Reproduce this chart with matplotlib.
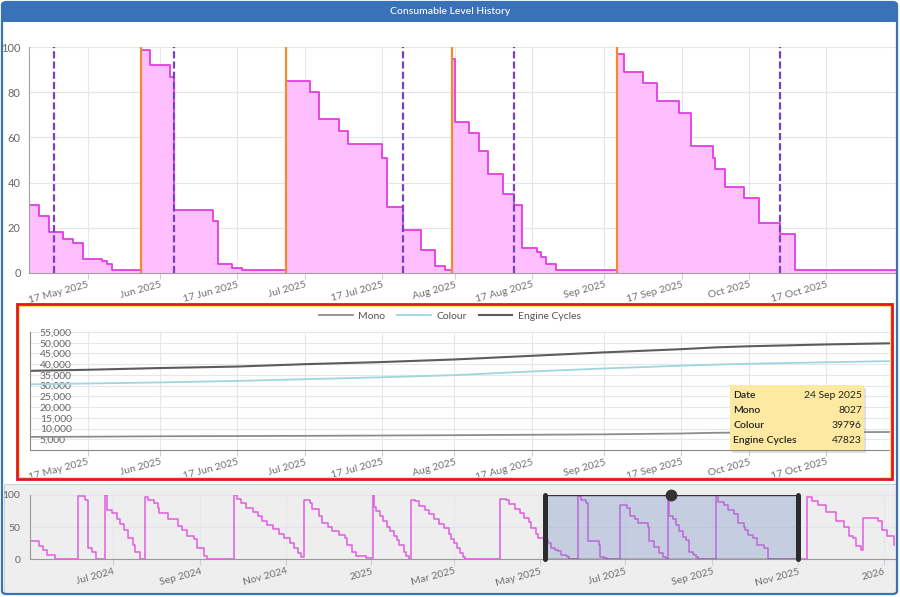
import matplotlib
matplotlib.use("Agg")
import matplotlib.pyplot as plt
import matplotlib.dates as mdates
from matplotlib.patches import Rectangle, FancyBboxPatch
from matplotlib.lines import Line2D
import pandas as pd

plt.rcParams["font.family"] = ["Lato", "DejaVu Sans"]

W, H = 900, 597

# --- consumable level (%) shown in the main window, step series
level_dates = [
    "2025-05-05", "2025-05-07", "2025-05-09", "2025-05-12", "2025-05-14", "2025-05-16",
    "2025-05-20", "2025-05-21", "2025-05-22",
    "2025-05-28", "2025-05-30", "2025-06-03", "2025-06-04", "2025-06-12", "2025-06-13",
    "2025-06-16", "2025-06-18",
    "2025-06-27", "2025-07-02", "2025-07-04", "2025-07-08", "2025-07-10", "2025-07-17",
    "2025-07-18", "2025-07-21 06:00", "2025-07-25", "2025-07-28", "2025-07-30",
    "2025-07-31 12:00", "2025-08-01", "2025-08-04", "2025-08-06", "2025-08-08", "2025-08-11",
    "2025-08-13 05:00", "2025-08-15", "2025-08-18", "2025-08-19", "2025-08-20", "2025-08-22",
    "2025-09-03 16:00", "2025-09-05", "2025-09-09", "2025-09-12", "2025-09-16 14:00",
    "2025-09-19", "2025-09-23 12:00", "2025-09-24", "2025-09-26", "2025-09-30",
    "2025-10-03", "2025-10-07 10:00", "2025-10-10 10:00", "2025-11-01",
]
level_values = [
    30, 25, 18, 15, 13, 6, 5, 4, 1,
    99, 92, 87, 28, 23, 4, 2, 1,
    85, 80, 68, 63, 57, 51, 29, 19, 10, 3, 1,
    95, 67, 62, 54, 44, 35, 30, 11, 9, 7, 4, 1,
    97, 89, 84, 76, 71, 56, 51, 46, 38, 33, 22, 17, 1, 1,
]
replaced_dates = ["2025-05-28", "2025-06-27", "2025-07-31 12:00", "2025-09-03 16:00"]
alert_dates = ["2025-05-10", "2025-06-04", "2025-07-21 06:00", "2025-08-13 05:00",
               "2025-10-07 10:00"]

# --- counters
counter_dates = ["2025-05-05", "2025-05-17", "2025-06-01", "2025-06-17", "2025-07-01",
                 "2025-07-17", "2025-08-01", "2025-08-17", "2025-09-01", "2025-09-17",
                 "2025-09-24", "2025-10-01", "2025-10-17", "2025-11-01"]
mono = [6100, 6200, 6400, 6500, 6600, 6750, 6900, 7100, 7300, 7700, 8027, 8150, 8300, 8400]
colour = [30600, 31000, 31500, 32200, 33000, 33900, 34900, 36600, 38000, 39300, 39796,
          40200, 40900, 41500]
engine = [36900, 37400, 38200, 38900, 40000, 41000, 42200, 43900, 45500, 47000, 47823,
          48350, 49200, 49800]
tooltip_date = "2025-09-24"
tooltip_label = "24 Sep 2025"

# --- navigator history outside the main window
nav_before_dates = [
    "2024-05-03", "2024-05-09", "2024-05-12", "2024-05-15", "2024-05-21",
    "2024-06-06", "2024-06-11", "2024-06-13", "2024-06-16", "2024-06-19",
    "2024-06-25", "2024-06-27", "2024-06-30", "2024-07-04", "2024-07-06", "2024-07-09",
    "2024-07-12", "2024-07-15", "2024-07-17", "2024-07-20",
    "2024-07-24", "2024-07-26", "2024-07-30", "2024-08-02", "2024-08-03", "2024-08-09",
    "2024-08-16", "2024-08-19", "2024-08-23", "2024-08-28", "2024-08-30", "2024-09-04",
    "2024-09-06",
    "2024-09-25", "2024-09-27", "2024-09-30", "2024-10-04", "2024-10-09", "2024-10-12",
    "2024-10-15", "2024-10-19", "2024-10-23", "2024-10-27", "2024-10-31", "2024-11-04",
    "2024-11-07", "2024-11-10", "2024-11-12",
    "2024-11-14", "2024-11-18", "2024-11-20", "2024-11-25", "2024-11-27", "2024-12-01",
    "2024-12-04", "2024-12-09", "2024-12-13", "2024-12-15", "2024-12-18", "2024-12-21",
    "2024-12-28",
    "2025-01-02", "2025-01-03", "2025-01-04", "2025-01-07", "2025-01-09", "2025-01-12",
    "2025-01-14", "2025-01-17", "2025-01-19", "2025-01-21", "2025-01-24", "2025-01-26",
    "2025-01-28",
    "2025-01-29", "2025-02-01", "2025-02-04", "2025-02-08", "2025-02-11", "2025-02-15",
    "2025-02-18", "2025-02-22", "2025-02-25", "2025-02-27", "2025-03-01", "2025-03-03",
    "2025-03-05", "2025-03-07", "2025-03-09",
    "2025-04-03", "2025-04-07", "2025-04-09", "2025-04-13", "2025-04-17", "2025-04-20",
    "2025-04-23", "2025-04-25", "2025-04-28", "2025-04-30",
]
nav_before_values = [
    28, 20, 15, 7, 1,
    98, 93, 17, 12, 1,
    100, 77, 72, 62, 55, 45, 33, 22, 12, 1,
    97, 93, 88, 80, 72, 62, 52, 45, 37, 31, 18, 5, 1,
    100, 94, 88, 80, 74, 67, 60, 54, 47, 40, 33, 26, 18, 10, 4,
    93, 88, 78, 67, 56, 51, 44, 38, 33, 22, 12, 5, 2,
    100, 82, 75, 67, 59, 51, 44, 37, 30, 22, 11, 5, 1,
    92, 90, 83, 77, 70, 62, 55, 48, 40, 32, 25, 18, 10, 3, 1,
    94, 92, 86, 78, 72, 65, 58, 48, 40, 33,
]
nav_after_dates = ["2025-11-07", "2025-11-11", "2025-11-15", "2025-11-21", "2025-11-28",
                   "2025-12-04", "2025-12-07", "2025-12-10", "2025-12-12", "2025-12-16",
                   "2025-12-17", "2025-12-28", "2025-12-31", "2026-01-03", "2026-01-08"]
nav_after_values = [97, 90, 84, 73, 60, 50, 36, 33, 20, 15, 65, 59, 46, 36, 23]

main_ticks = ["2025-05-17", "2025-06-01", "2025-06-17", "2025-07-01", "2025-07-17",
              "2025-08-01", "2025-08-17", "2025-09-01", "2025-09-17", "2025-10-01",
              "2025-10-17"]
main_tick_labels = ["17 May 2025", "Jun 2025", "17 Jun 2025", "Jul 2025", "17 Jul 2025",
                    "Aug 2025", "17 Aug 2025", "Sep 2025", "17 Sep 2025", "Oct 2025",
                    "17 Oct 2025"]
nav_ticks = ["2024-07-01", "2024-09-01", "2024-11-01", "2025-01-01", "2025-03-01",
             "2025-05-01", "2025-07-01", "2025-09-01", "2025-11-01", "2026-01-01"]
nav_tick_labels = ["Jul 2024", "Sep 2024", "Nov 2024", "2025", "Mar 2025", "May 2025",
                   "Jul 2025", "Sep 2025", "Nov 2025", "2026"]

window = ("2025-05-04 21:00", "2025-10-31 15:00")
mid_window = ("2025-05-05 02:00", "2025-10-30 05:00")
nav_range = ("2024-05-02 22:00", "2026-01-10 10:00")


def to_dt(values):
    return pd.to_datetime(values, format="ISO8601")


def box(l, t, r, b):
    return [l / W, 1 - b / H, (r - l) / W, (b - t) / H]


def fx(x):
    return x / W


def fy(y):
    return 1 - y / H


def date_axis(ax, ticks, labels):
    ax.set_xticks(mdates.date2num(to_dt(ticks).to_pydatetime()))
    ax.set_xticklabels(labels, rotation=15, ha="right", va="top",
                       rotation_mode="anchor", fontsize=7.5, color="#707070")
    ax.tick_params(axis="x", length=4, color="#c8d0e0", pad=1.5)
    ax.grid(axis="x", color="#e6e6ee", lw=0.8)
    for s in ["top", "right"]:
        ax.spines[s].set_visible(False)
    ax.set_axisbelow(True)


fig = plt.figure(figsize=(9, 5.97), dpi=100)

# frame pieces
fig.add_artist(Rectangle((fx(4), fy(593)), 892 / W, 109 / H, transform=fig.transFigure,
                         fc="#eeeeee", ec="#c8c8c8", lw=0.6, zorder=-2))
fig.add_artist(Rectangle((fx(2), fy(22)), 895 / W, 20 / H, transform=fig.transFigure,
                         fc="#3a72b8", ec="none", zorder=8))
fig.text(fx(450), fy(12), "Consumable Level History", color="white", fontsize=7.5,
         ha="center", va="center", zorder=9, fontweight="medium")
fig.add_artist(FancyBboxPatch((fx(2), fy(594)), 895 / W, 592 / H, transform=fig.transFigure,
                              boxstyle="round,pad=0,rounding_size=0.005", fill=False,
                              ec="#3a72b8", lw=1.6, zorder=10))

# --- main level chart
ax1 = fig.add_axes(box(29, 47.3, 897, 272.7))
t = to_dt(level_dates)
ax1.fill_between(t, level_values, step="post", color="#ffbfff", lw=0)
ax1.step(t, level_values, where="post", color="#e23de2", lw=1.3)
for d in replaced_dates:
    ax1.axvline(pd.Timestamp(d), color="#f28c28", lw=1.6)
for d in alert_dates:
    ax1.axvline(pd.Timestamp(d), color="#7b3fc6", lw=1.6, ls=(0, (3.2, 1.4)))
ax1.set_xlim(pd.Timestamp(window[0]), pd.Timestamp(window[1]))
ax1.set_ylim(0, 100)
ax1.set_yticks(range(0, 101, 20))
ax1.grid(axis="y", color="#e6e6e6", lw=0.8)
ax1.tick_params(axis="y", length=0, pad=6, labelsize=8, labelcolor="#666666")
date_axis(ax1, main_ticks, main_tick_labels)
ax1.spines["left"].set_color("#a0a0a0")
ax1.spines["bottom"].set_color("#a0a0a0")

# --- counters chart
ax2 = fig.add_axes(box(30, 332, 890, 450))
c = to_dt(counter_dates)
ax2.plot(c, mono, color="#8c8c8c", lw=1.3)
ax2.plot(c, colour, color="#9fd5dc", lw=1.3)
ax2.plot(c, engine, color="#5c5c5c", lw=1.5)
ax2.set_xlim(pd.Timestamp(mid_window[0]), pd.Timestamp(mid_window[1]))
ax2.set_ylim(0, 55000)
yt = list(range(5000, 55001, 5000))
ax2.set_yticks(yt)
ax2.set_yticklabels([f"{v:,}" for v in yt])
ax2.grid(axis="y", color="#e6e6ee", lw=0.8)
ax2.tick_params(axis="y", length=0, pad=-7, labelsize=7.5, labelcolor="#666666")
for lab in ax2.get_yticklabels():
    lab.set_horizontalalignment("left")
date_axis(ax2, main_ticks, main_tick_labels)
ax2.spines["left"].set_color("#888888")
ax2.spines["bottom"].set_color("#888888")

handles = [Line2D([], [], color="#8c8c8c", lw=1.3),
           Line2D([], [], color="#9fd5dc", lw=1.3),
           Line2D([], [], color="#5c5c5c", lw=1.5)]
fig.legend(handles, ["Mono", "Colour", "Engine Cycles"], loc="center",
           bbox_to_anchor=(fx(450), fy(316)), ncol=3, frameon=False, fontsize=7.5,
           handlelength=3.2, columnspacing=1.2, handletextpad=0.5, labelcolor="#555555")

# tooltip
i = counter_dates.index(tooltip_date)
rows = [("Date", tooltip_label), ("Mono", str(mono[i])), ("Colour", str(colour[i])),
        ("Engine Cycles", str(engine[i]))]
fig.add_artist(Rectangle((fx(732), fy(453)), 134 / W, 65 / H, transform=fig.transFigure,
                         fc="#888888", alpha=0.25, ec="none", zorder=4))
fig.add_artist(Rectangle((fx(730), fy(450)), 134 / W, 65 / H, transform=fig.transFigure,
                         fc="#fde9a2", ec="none", zorder=5))
for k, (lab, val) in enumerate(rows):
    y = fy(395 + k * 15.3)
    fig.text(fx(733), y, lab, fontsize=7.5, color="#222222", va="center", zorder=6,
             fontweight="semibold")
    fig.text(fx(862), y, val, fontsize=7.5, color="#222222", va="center", ha="right",
             zorder=6)

# red highlight box
fig.add_artist(Rectangle((fx(17), fy(479)), 875 / W, 175 / H, transform=fig.transFigure,
                         fill=False, ec="#e3161b", lw=2, zorder=3))
fig.add_artist(Rectangle((fx(19), fy(477)), 871 / W, 171 / H, transform=fig.transFigure,
                         fill=False, ec="#f3e36b", lw=0.7, zorder=3))

# --- navigator
ax3 = fig.add_axes(box(30, 495, 897, 559.3))
ax3.set_facecolor("none")
nav_t = to_dt(nav_before_dates + level_dates + nav_after_dates)
nav_v = nav_before_values + level_values + nav_after_values
ax3.step(nav_t, nav_v, where="post", color="#e05ce0", lw=1.1)
ax3.set_xlim(pd.Timestamp(nav_range[0]), pd.Timestamp(nav_range[1]))
ax3.set_ylim(0, 100)
ax3.set_yticks([0, 50, 100])
ax3.grid(axis="y", color="#e2e2ea", lw=0.8)
ax3.tick_params(axis="y", length=0, pad=7, labelsize=7.5, labelcolor="#666666")
date_axis(ax3, nav_ticks, nav_tick_labels)
ax3.spines["left"].set_color("#999999")
ax3.spines["bottom"].set_color("#999999")

w0, w1 = pd.Timestamp(window[0]), pd.Timestamp(window[1])
ax3.axvspan(w0, w1, ymin=0, ymax=1, fc=(102 / 255, 133 / 255, 194 / 255, 0.3),
            ec="#333333", lw=1, zorder=3)
for w in (w0, w1):
    ax3.plot([w, w], [0, 100], color="#2b2b2b", lw=3.6, solid_capstyle="round",
             zorder=4, clip_on=False)
ax3.plot([w0 + (w1 - w0) / 2], [100], "o", ms=7.5, color="#333333", zorder=5,
         clip_on=False)

fig.savefig("out.png", dpi=100)
